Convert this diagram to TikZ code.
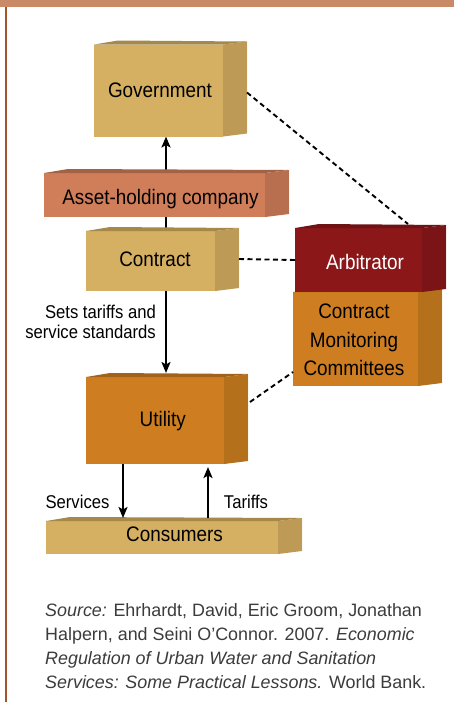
\documentclass[tikz,border=0pt]{standalone}
\usepackage{fontspec}
\setmainfont{Liberation Sans}
\newfontfamily\boxfont[FakeStretch=0.9]{Liberation Sans}
\usetikzlibrary{calc,arrows.meta}

\pgfdeclarelayer{paper}
\pgfdeclarelayer{behind}
\pgfsetlayers{paper,behind,main}

\definecolor{tanfront}{HTML}{D5B062}
\definecolor{tanside}{HTML}{BD9B57}
\definecolor{tantop}{HTML}{A68848}
\definecolor{salmonfront}{HTML}{D07E5A}
\definecolor{salmonside}{HTML}{B76F4F}
\definecolor{salmontop}{HTML}{A26245}
\definecolor{redfront}{HTML}{8B1719}
\definecolor{redside}{HTML}{7B1416}
\definecolor{redtop}{HTML}{6F1214}
\definecolor{orangefront}{HTML}{CE7E21}
\definecolor{orangeside}{HTML}{B5701C}
\definecolor{orangetop}{HTML}{A06319}
\definecolor{barcolor}{HTML}{C98B67}
\definecolor{rulecolor}{HTML}{A4532A}
\definecolor{captiongray}{HTML}{3C3C3C}

% side and top faces of a block, hung on the front face node
\newcommand{\blockfaces}[3]{%
  \fill[#2] (#1.north east) -- ++(24,-3) -- ($(#1.south east)+(24,-3)$) -- (#1.south east) -- cycle;
  \fill[#3] (#1.north west) -- ++(24,-4) -- ($(#1.north east)+(24,-3)$) -- (#1.north east) -- cycle;
  \draw[white, opacity=0.45, line width=0.7pt] ($(#1.north east)+(24,-3)$) -- ($(#1.south east)+(24,-3)$);
}

\tikzset{
  face/.style={inner sep=0pt, outer sep=0pt},
  blocktext/.style={inner sep=0pt, font=\boxfont\fontsize{21}{28.3}\selectfont, align=center},
  flowlabel/.style={inner sep=0pt, font=\boxfont\fontsize{18.5}{20}\selectfont},
  caption/.style={inner sep=0pt, anchor=base west, text=captiongray, font=\fontsize{17.9}{24}\selectfont},
  flow/.style={line width=2.4pt, -{Stealth[length=11pt,width=9pt,inset=2.5pt]}},
  link/.style={line width=1.9pt, dash pattern=on 5pt off 3.5pt},
}

\begin{document}
\begin{tikzpicture}[x=1pt, y=-1pt]
\useasboundingbox (0,0) rectangle (454,702);
\begin{pgfonlayer}{paper}
  \fill[white] (0,0) rectangle (454,702);
\end{pgfonlayer}

% frame: top band and left rule
\fill[barcolor] (0,0) rectangle (454,7);
\fill[rulecolor] (5,7) rectangle (7.3,702);

% front faces
\node[face, fill=tanfront, minimum width=129pt, minimum height=92pt] (gov) at (158.5,90.5) {};
\blockfaces{gov}{tanside}{tantop}
\node[face, fill=salmonfront, minimum width=221pt, minimum height=44pt] (asset) at (154.5,195) {};
\blockfaces{asset}{salmonside}{salmontop}
\node[face, fill=tanfront, minimum width=129pt, minimum height=60pt] (contract) at (150.5,261) {};
\blockfaces{contract}{tanside}{tantop}
\node[face, fill=orangefront, minimum width=125pt, minimum height=94pt] (cmc) at (355.5,339) {};
\blockfaces{cmc}{orangeside}{orangetop}
\node[face, fill=redfront, minimum width=127pt, minimum height=64pt] (arb) at (358.5,260) {};
\blockfaces{arb}{redside}{redtop}
\node[face, fill=orangefront, minimum width=138pt, minimum height=87pt] (util) at (155,420.5) {};
\blockfaces{util}{orangeside}{orangetop}
\node[face, fill=tanfront, minimum width=232pt, minimum height=33pt] (cons) at (162,537.5) {};
\blockfaces{cons}{tanside}{tantop}

% block titles
\node[blocktext, anchor=base] (govtext) at (160,97.7) {Government};
\node[blocktext, anchor=base] (assettext) at (160.5,204.3) {Asset-holding company};
\node[blocktext, anchor=base] (contracttext) at (155,266) {Contract};
\node[blocktext, anchor=base, text=white] (arbtext) at (365,269.3) {Arbitrator};
\node[blocktext, anchor=center] (cmctext) at (354,340) {Contract\\Monitoring\\Committees};
\node[blocktext, anchor=base] (utiltext) at (162.8,426.7) {Utility};
\node[blocktext, anchor=base] (constext) at (174.5,541.7) {Consumers};

% vertical flows
\coordinate (spine) at (166,0);
\coordinate (servicesline) at (123,0);
\coordinate (tariffsline) at (208,0);
\begin{pgfonlayer}{behind}
  \draw[flow] (contract.north -| spine) -- (gov.south -| spine);
\end{pgfonlayer}
\draw[flow] (contract.south -| spine) -- ([yshift=4pt]util.north -| spine);
\draw[flow] (util.south -| servicesline) -- ([yshift=3pt]cons.north -| servicesline);
\draw[flow] ([yshift=3pt]cons.north -| tariffsline) -- ([yshift=-3pt]util.south -| tariffsline);

\node[flowlabel, anchor=east, align=right] (setslabel) at (156,322) {Sets tariffs and\\service standards};
\node[flowlabel, anchor=base] (serviceslabel) at (77.5,508.3) {Services};
\node[flowlabel, anchor=base] (tariffslabel) at (246,508.3) {Tariffs};

% dashed oversight links
\draw[link] ($(gov.east)+(24,2)$) -- ($(arb.north east)+(-14,-4)$);
\draw[link] ($(contract.east)+(24,-2)$) -- (arb.west);
\draw[link] ($(util.north east)+(26,25)$) -- ($(cmc.south west)+(0,-14)$);

% source note
\node[caption] (cap1) at (45,616.5) {\textit{Source:} Ehrhardt, David, Eric Groom, Jonathan};
\node[caption] (cap2) at (45,640.5) {Halpern, and Seini O’Connor. 2007. \textit{Economic}};
\node[caption] (cap3) at (45,664.5) {\textit{Regulation of Urban Water and Sanitation}};
\node[caption] (cap4) at (45,688.5) {\textit{Services: Some Practical Lessons.} World Bank.};
\end{tikzpicture}
\end{document}
